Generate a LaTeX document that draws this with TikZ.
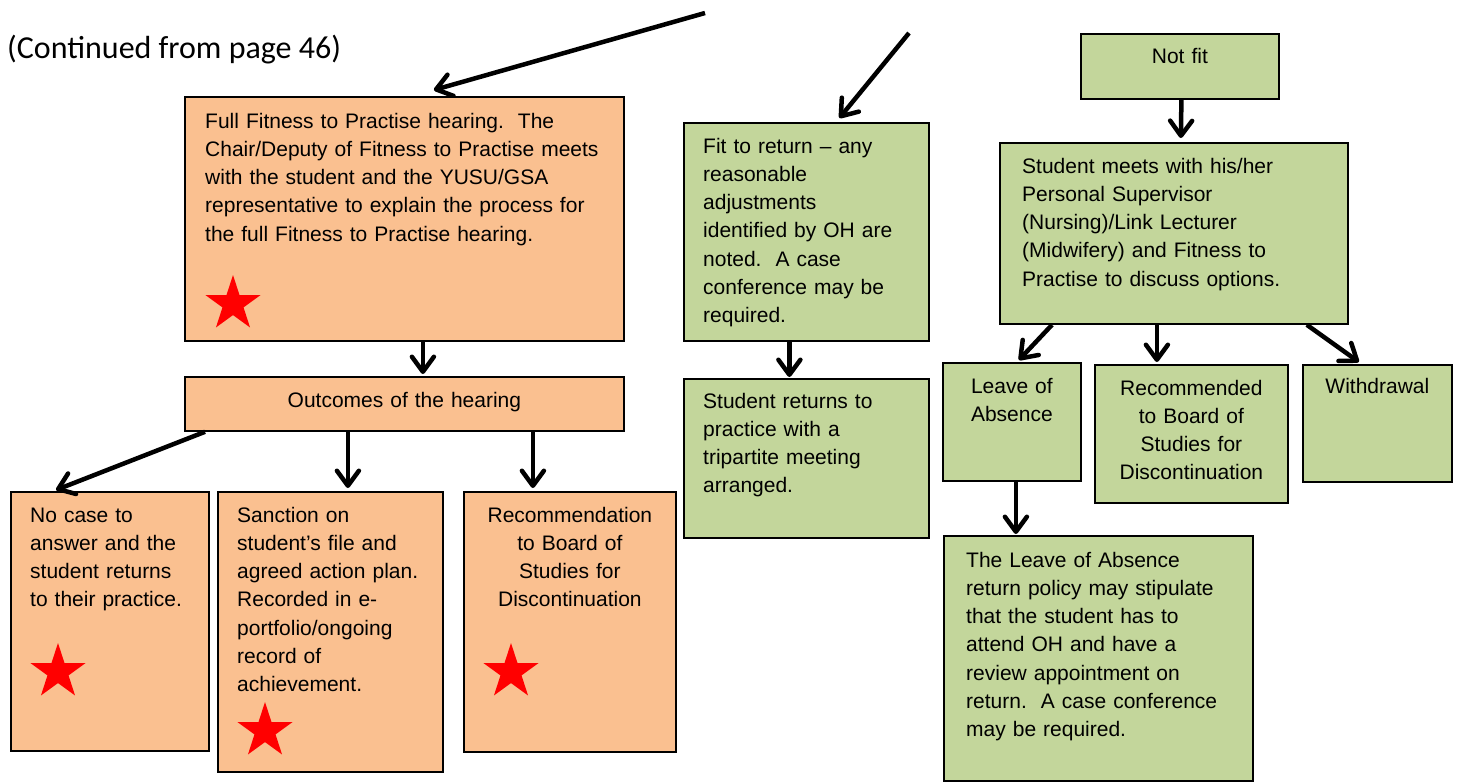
\documentclass[tikz,border=0pt]{standalone}
\usepackage{fontspec}
\setmainfont{Liberation Sans}
\newfontfamily\contfont{Carlito}
\usetikzlibrary{arrows.meta,shapes.geometric}
\definecolor{peach}{RGB}{250,192,144}
\definecolor{sage}{RGB}{195,214,155}

\begin{document}
\begin{tikzpicture}[x=1pt, y=-1pt,
  every node/.style={font=\fontsize{21}{28.3}\selectfont},
  box/.style={draw, line width=1.8pt, anchor=north west, inner sep=0pt},
  obox/.style={box, fill=peach},
  gbox/.style={box, fill=sage},
  txt/.style={anchor=base west, inner sep=0pt, align=left, text width=#1},
  ctxt/.style={anchor=base, inner sep=0pt, align=center, text width=#1},
  arr/.style={line width=4.5pt, -{Straight Barb[length=15pt,width=22pt,round]}},
  redstar/.style={star, star points=5, star point ratio=2.618, fill=red, inner sep=0pt, minimum size=58pt}]
		\useasboundingbox (0,0) rectangle (1460,782);

		\node[anchor=base west, inner sep=0pt, font=\contfont\fontsize{32}{38}\selectfont] (cont) at (7,58) {(Continued from page 46)};

		\node[obox, minimum width=439pt, minimum height=244pt] (hearing) at (184,96) {};
		\node[obox, minimum width=439pt, minimum height=54pt] (outcomes) at (184,376) {};
		\node[obox, minimum width=198pt, minimum height=259pt] (nocase) at (10,491) {};
		\node[obox, minimum width=225pt, minimum height=280pt] (sanction) at (217,491) {};
		\node[obox, minimum width=212pt, minimum height=260pt] (recomm) at (463,491) {};

		\node[gbox, minimum width=245pt, minimum height=218pt] (fit) at (683,122) {};
		\node[gbox, minimum width=245pt, minimum height=159pt] (returns) at (683,378) {};
		\node[gbox, minimum width=198pt, minimum height=65pt] (notfit) at (1080,33) {};
		\node[gbox, minimum width=348pt, minimum height=181pt] (meets) at (999,142) {};
		\node[gbox, minimum width=138pt, minimum height=118pt] (leave) at (942,362) {};
		\node[gbox, minimum width=193pt, minimum height=138pt] (recgreen) at (1094,364) {};
		\node[gbox, minimum width=149pt, minimum height=117pt] (withdraw) at (1302,364) {};
		\node[gbox, minimum width=309pt, minimum height=245pt] (policy) at (943,535) {};

		\node[txt=420pt] (hearing-t) at ([shift={(21,32)}]hearing.north west) {Full Fitness to Practise hearing.\ \ The\\Chair/Deputy of Fitness to Practise meets\\with the student and the YUSU/GSA\\representative to explain the process for\\the full Fitness to Practise hearing.};
		\node[ctxt=420pt] (outcomes-t) at ([yshift=-31pt]outcomes.north) {Outcomes of the hearing};
		\node[txt=180pt] (nocase-t) at ([shift={(20,31)}]nocase.north west) {No case to\\answer and the\\student returns\\to their practice.};
		\node[txt=205pt] (sanction-t) at ([shift={(20,31)}]sanction.north west) {Sanction on\\student’s file and\\agreed action plan.\\Recorded in e-\\portfolio/ongoing\\record of\\achievement.};
		\node[ctxt=200pt] (recomm-t) at ([yshift=-31pt]recomm.north) {Recommendation\\to Board of\\Studies for\\Discontinuation};

		\node[txt=220pt] (fit-t) at ([shift={(20,31)}]fit.north west) {Fit to return – any\\reasonable\\adjustments\\identified by OH are\\noted.\ \ A case\\conference may be\\required.};
		\node[txt=220pt] (returns-t) at ([shift={(20,30)}]returns.north west) {Student returns to\\practice with a\\tripartite meeting\\arranged.};
		\node[ctxt=190pt] (notfit-t) at ([yshift=-30pt]notfit.north) {Not fit};
		\node[txt=320pt] (meets-t) at ([shift={(23,31)}]meets.north west) {Student meets with his/her\\Personal Supervisor\\(Nursing)/Link Lecturer\\(Midwifery) and Fitness to\\Practise to discuss options.};
		\node[ctxt=130pt] (leave-t) at ([yshift=-31pt]leave.north) {Leave of\\Absence};
		\node[ctxt=185pt] (recgreen-t) at ([yshift=-31pt]recgreen.north) {Recommended\\to Board of\\Studies for\\Discontinuation};
		\node[ctxt=140pt] (withdraw-t) at ([yshift=-29pt]withdraw.north) {Withdrawal};
		\node[txt=285pt] (policy-t) at ([shift={(23,32)}]policy.north west) {The Leave of Absence\\return policy may stipulate\\that the student has to\\attend OH and have a\\review appointment on\\return.\ \ A case conference\\may be required.};

		\node[redstar] (star1) at (233,304) {};
		\node[redstar] (star2) at (58,672) {};
		\node[redstar] (star3) at (265,731) {};
		\node[redstar] (star4) at (511,672) {};

		\coordinate (top1) at (705,13);
		\coordinate (top2) at (909,33);

		\draw[arr] (top1) -- ([shift={(29.5,-6)}]hearing.north);
		\draw[arr] (top2) -- ([shift={(33,-4)}]fit.north);
		\draw[arr] ([xshift=18.5pt]hearing.south) -- ([shift={(18.5,-2)}]outcomes.north);
		\draw[arr] ([xshift=-17pt]fit.south) -- ([shift={(-17,-1)}]returns.north);
		\draw[arr] ([xshift=21pt]outcomes.south west) -- ([shift={(46,-1)}]nocase.north west);
		\draw[arr] ([xshift=-56.5pt]outcomes.south) -- ([shift={(17.5,-3)}]sanction.north);
		\draw[arr] ([xshift=128.5pt]outcomes.south) -- ([shift={(-37,-3)}]recomm.north);
		\draw[arr] ([xshift=1.5pt]notfit.south) -- ([shift={(7,-4)}]meets.north);
		\draw[arr] ([xshift=53pt]meets.south west) -- ([shift={(7,-2)}]leave.north);
		\draw[arr] ([xshift=-17pt]meets.south) -- ([shift={(-34.5,-2)}]recgreen.north);
		\draw[arr] ([xshift=-42pt]meets.south east) -- ([shift={(-18.5,-2)}]withdraw.north);
		\draw[arr] ([xshift=4pt]leave.south) -- ([shift={(-82.5,-1)}]policy.north);
	\end{tikzpicture}
\end{document}
